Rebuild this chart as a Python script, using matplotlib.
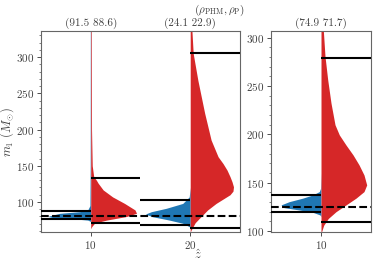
import matplotlib
matplotlib.use("Agg")
import matplotlib.pyplot as plt
import numpy as np
from matplotlib.ticker import AutoMinorLocator

plt.rcParams['font.family'] = 'serif'
plt.rcParams['font.serif'] = ['cmr10']
plt.rcParams['mathtext.fontset'] = 'cm'
plt.rcParams['axes.formatter.use_mathtext'] = True

BLUE = '#1f77b4'
RED = '#d62728'

# violin profiles: (m1 value, half width in z units)
# left panel, z = 10
b10_y = [73, 75, 76, 78.4, 80, 81, 84.4, 86.6, 89, 95, 150, 336]
b10_w = [0, 0.3, 1.1, 3.8, 4.3, 4.1, 3.1, 1.1, 0.3, 0.08, 0.05, 0.04]
r10_y = [63, 66, 71, 75, 80, 84.4, 89, 98, 107, 116.6, 126, 130, 135, 150, 200, 336]
r10_w = [0, 0.1, 0.4, 1.6, 3.6, 4.6, 4.45, 3.4, 2.2, 1.25, 0.74, 0.57, 0.3, 0.15, 0.08, 0.06]
# left panel, z = 20
b20_y = [64, 66, 70.6, 75, 79.7, 83.4, 86.6, 91.3, 98, 107, 120]
b20_w = [0, 0.1, 0.75, 2.1, 3.8, 4.5, 3.9, 2.4, 0.75, 0.1, 0]
r20_y = [58, 61.5, 71.4, 80, 89, 98, 104, 110, 115, 121, 128, 135, 144, 153, 162.5, 185.5, 222.7, 268, 305, 337]
r20_w = [0, 0.1, 0.5, 1.1, 1.75, 2.6, 3.3, 4.0, 4.3, 4.35, 4.2, 4.0, 3.7, 3.3, 2.8, 2.1, 1.45, 0.77, 0.3, 0.17]
# right panel, z = 10
bR_y = [115, 116.6, 119.4, 121.8, 124.2, 127, 130.4, 134, 137.3, 140.8, 144, 160]
bR_w = [0, 0.1, 0.83, 2.2, 3.7, 4.0, 3.17, 1.83, 0.83, 0.17, 0.05, 0]
rR_y = [97, 99, 106, 113, 120, 127, 134, 140.8, 147.7, 158, 168.5, 178.8, 189, 199.5, 210, 232.4, 256.6, 280.8, 308]
rR_w = [0, 0.05, 0.27, 0.73, 1.5, 2.5, 3.5, 4.3, 4.57, 4.3, 3.8, 3.2, 2.5, 1.83, 1.4, 1.0, 0.67, 0.4, 0.23]

# 90% intervals (lower, upper) and true values
left_z = [10, 20]
left_blue_ci = [(76.6, 87.6), (68, 102.8)]
left_red_ci = [(71.5, 133), (64.6, 305.5)]
left_truth = 80
left_rho = ['(91.5 88.6)', '(24.1 22.9)']

right_z = [10]
right_blue_ci = [(119.7, 137)]
right_red_ci = [(109.6, 279.3)]
right_truth = 125
right_rho = ['(74.9 71.7)']

fig = plt.figure(figsize=(3.74, 2.63), dpi=100)
ax1 = fig.add_axes([0.1096, 0.118, 0.532, 0.764])
ax2 = fig.add_axes([0.7246, 0.118, 0.2674, 0.764])


def half_violin(ax, z, ys, ws, side, color):
    ys = np.array(ys)
    ws = np.array(ws)
    ax.fill_betweenx(ys, z, z + side * ws, color=color, lw=0, zorder=2)


half_violin(ax1, 10, b10_y, b10_w, -1, BLUE)
half_violin(ax1, 10, r10_y, r10_w, 1, RED)
half_violin(ax1, 20, b20_y, b20_w, -1, BLUE)
half_violin(ax1, 20, r20_y, r20_w, 1, RED)
half_violin(ax2, 10, bR_y, bR_w, -1, BLUE)
half_violin(ax2, 10, rR_y, rR_w, 1, RED)


def intervals(ax, zs, bci, rci, truth, rho):
    for z, b, r, t in zip(zs, bci, rci, rho):
        ax.hlines(b, z - 5, z, color='k', lw=1.5, zorder=3)
        ax.hlines(r, z, z + 5, color='k', lw=1.5, zorder=3)
        ax.text(z, 1.01, t, transform=ax.get_xaxis_transform(),
                ha='center', va='bottom', fontsize=8, color='0.25')
    ax.axhline(truth, color='k', ls='--', lw=1.5, zorder=3)


intervals(ax1, left_z, left_blue_ci, left_red_ci, left_truth, left_rho)
intervals(ax2, right_z, right_blue_ci, right_red_ci, right_truth, right_rho)

ax1.set_xlim(5, 25)
ax1.set_ylim(58.6, 336)
ax2.set_xlim(5, 15)
ax2.set_ylim(99, 307)
ax1.set_xticks(left_z)
ax2.set_xticks(right_z)
ax1.set_yticks([100, 150, 200, 250, 300])
ax2.set_yticks([100, 150, 200, 250, 300])

for ax in (ax1, ax2):
    ax.yaxis.set_minor_locator(AutoMinorLocator(5))
    ax.tick_params(labelsize=8, colors='0.3', labelcolor='0.25', length=3, width=0.7, pad=2)
    ax.tick_params(which='minor', length=1.8, width=0.5, colors='0.3')
    for s in ax.spines.values():
        s.set_color('0.4')
        s.set_linewidth(0.8)

fig.text(0.02, 0.5, r'$m_1\ (M_{\odot})$', rotation=90, ha='center', va='center',
         fontsize=9, color='0.25')
fig.text(0.53, 0.03, r'$\hat{z}$', ha='center', va='center', fontsize=9, color='0.25')
fig.text(0.588, 0.962, r'$(\rho_{\rm PHM}, \rho_{\rm P})$', ha='center', va='center',
         fontsize=8, color='0.25')

fig.savefig('out.png', dpi=100)
